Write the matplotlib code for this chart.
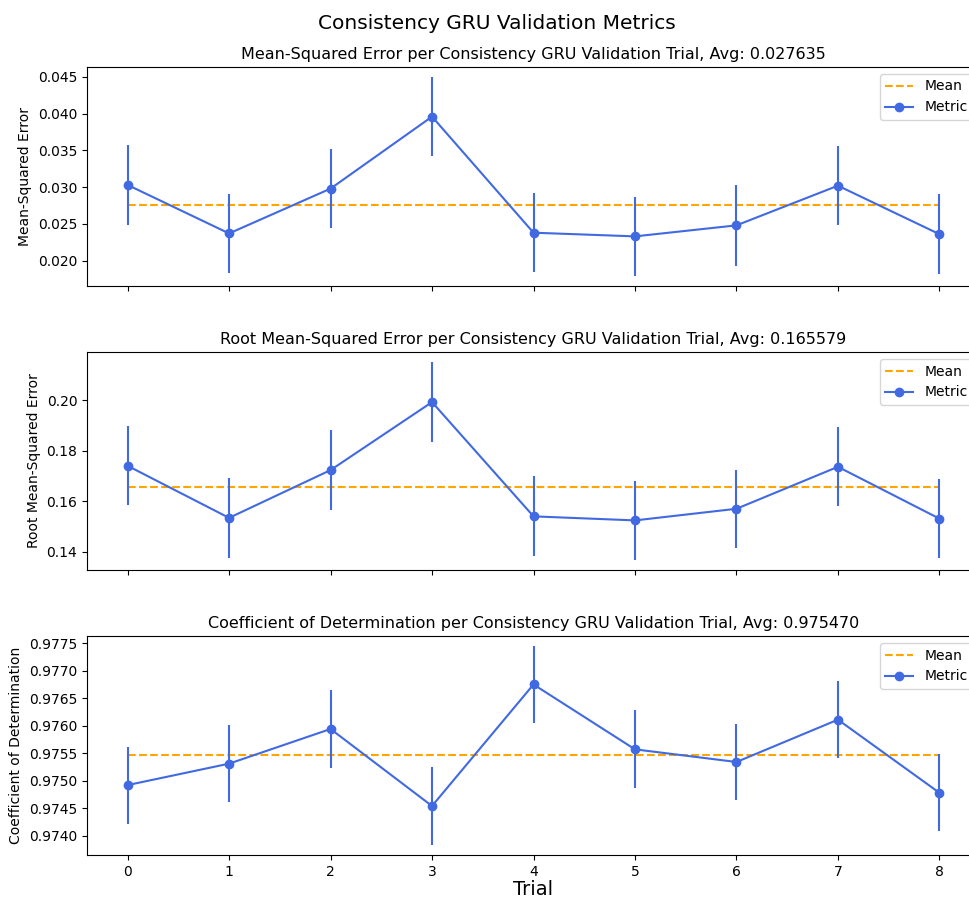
import matplotlib
matplotlib.use("Agg")
import matplotlib.pyplot as plt
import numpy as np

# Per-trial validation metrics
trials = list(range(9))

mse_vals = [0.0303, 0.0237, 0.0298, 0.0396, 0.0238, 0.0233, 0.0248, 0.0302, 0.0236]
mse_err = [0.0054, 0.0054, 0.0054, 0.0054, 0.0054, 0.0054, 0.0055, 0.0054, 0.0054]
mse_mean = 0.027635

rmse_vals = [0.1740, 0.1534, 0.1723, 0.1992, 0.1540, 0.1524, 0.1570, 0.1736, 0.1531]
rmse_err = [0.0156, 0.0158, 0.0157, 0.0159, 0.0158, 0.0157, 0.0155, 0.0156, 0.0157]
rmse_mean = 0.165579

r2_vals = [0.97492, 0.97531, 0.97594, 0.97454, 0.97675, 0.97557, 0.97534, 0.97611, 0.97478]
r2_err = [0.00070, 0.00070, 0.00071, 0.00071, 0.00070, 0.00071, 0.00070, 0.00070, 0.00070]
r2_mean = 0.975470

panels = [
    ("Mean-Squared Error", mse_vals, mse_err, mse_mean),
    ("Root Mean-Squared Error", rmse_vals, rmse_err, rmse_mean),
    ("Coefficient of Determination", r2_vals, r2_err, r2_mean),
]

BLUE = "royalblue"
ORANGE = "orange"

fig = plt.figure(figsize=(9.69, 9.01), dpi=100)
W, H = 969.0, 901.0
fig.suptitle("Consistency GRU Validation Metrics", fontsize=14.5, x=497 / W, y=0.985)

left = 87 / W
right = 980 / W
boxes = [(67, 286), (352, 570), (636, 855)]

axes = []
for i, (name, vals, err, mean) in enumerate(panels):
    top_px, bot_px = boxes[i]
    ax = fig.add_axes([left, 1 - bot_px / H, right - left, (bot_px - top_px) / H],
                      sharex=axes[0] if axes else None)
    axes.append(ax)

    ax.plot(trials, [mean] * len(trials), "--", color=ORANGE, lw=1.5, label="Mean")
    ax.errorbar(trials, vals, yerr=err, fmt="none", ecolor=BLUE, elinewidth=1.5)
    ax.plot(trials, vals, "-o", color=BLUE, lw=1.5, ms=6, label="Metric")

    ax.set_title(f"{name} per Consistency GRU Validation Trial, Avg: {mean:.6f}", fontsize=11.5)
    ax.set_ylabel(name, fontsize=10)
    ax.legend(loc="upper right", fontsize=10)
    ax.spines["right"].set_visible(False)
    ax.tick_params(labelsize=10)
    if i < 2:
        plt.setp(ax.get_xticklabels(), visible=False)

axes[0].set_yticks([0.020, 0.025, 0.030, 0.035, 0.040, 0.045])
axes[1].set_yticks([0.14, 0.16, 0.18, 0.20])
axes[2].set_yticks(np.arange(0.9740, 0.97751, 0.0005))
axes[2].set_xticks(trials)
axes[2].set_xlabel("Trial", fontsize=14, labelpad=1)

fig.savefig("out.png", dpi=100)
